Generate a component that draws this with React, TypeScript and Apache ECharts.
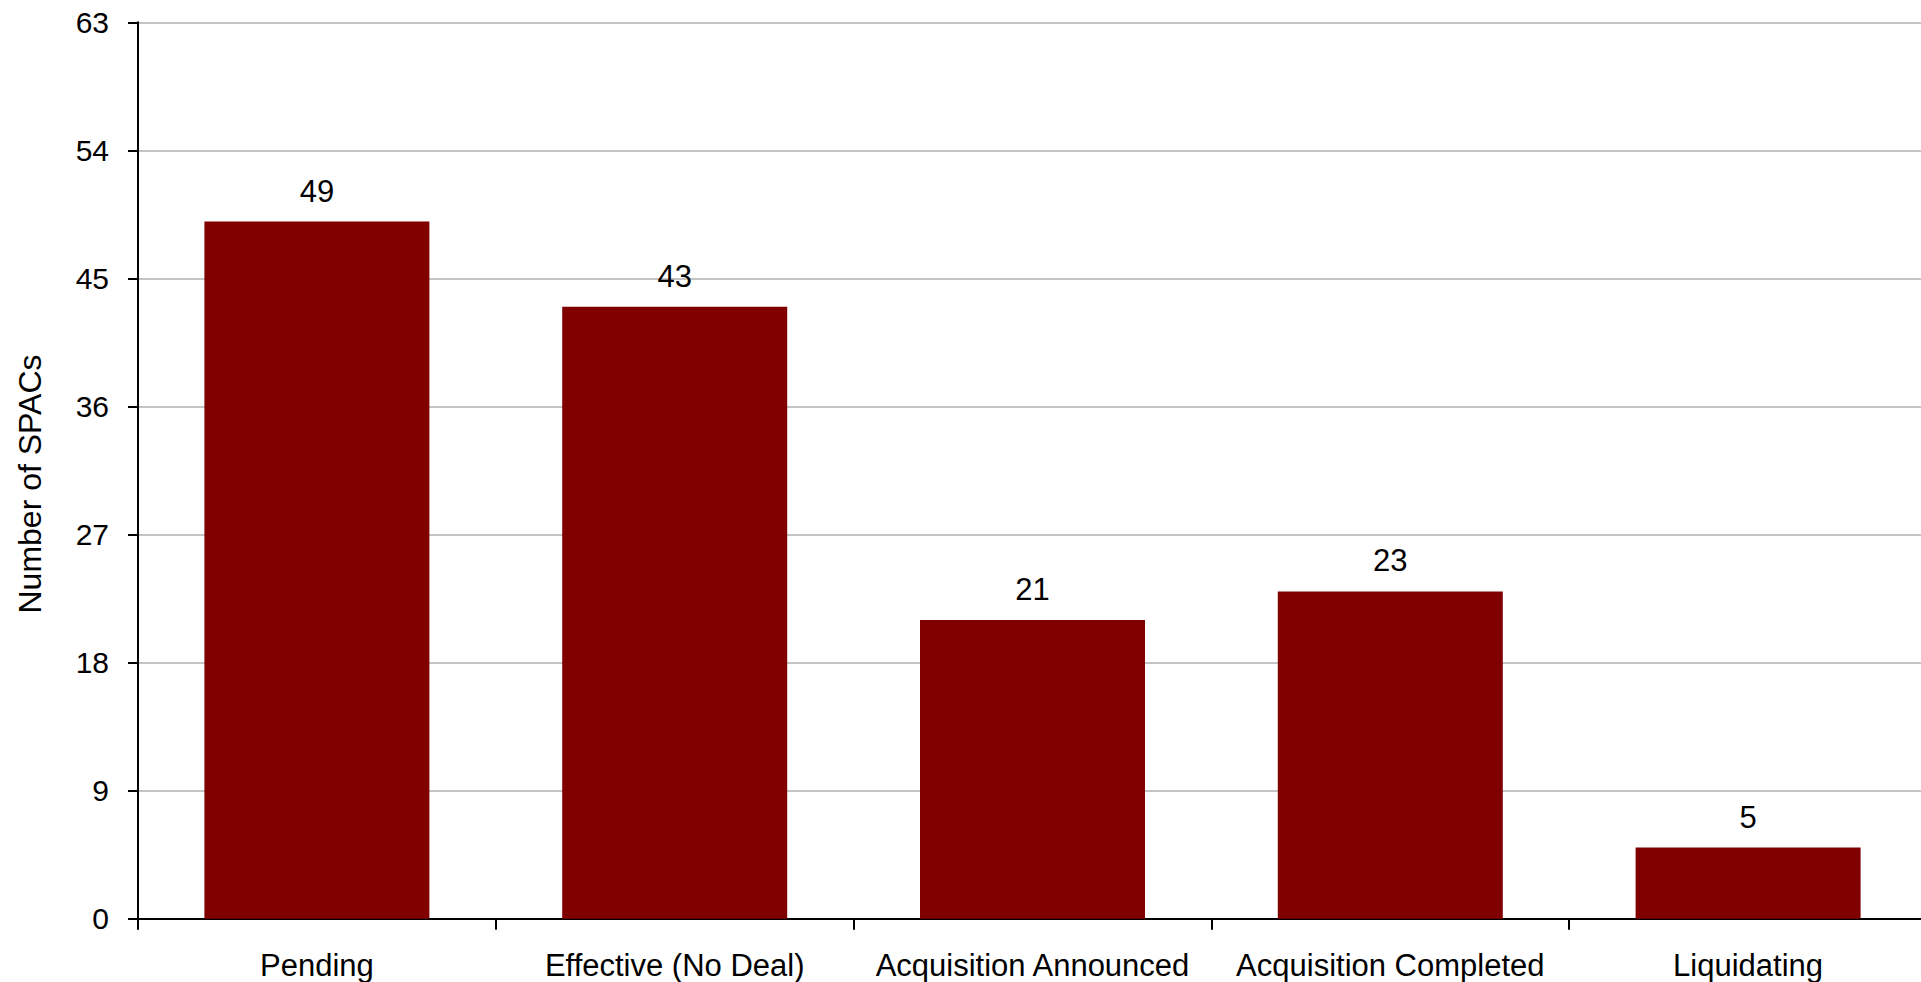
import React, { useEffect, useRef } from "react";
import * as echarts from "echarts";

const categories = [
  "Pending",
  "Effective (No Deal)",
  "Acquisition Announced",
  "Acquisition Completed",
  "Liquidating",
];
const spacCounts = [49, 43, 21, 23, 5];
const yMin = 0;
const yMax = 63;
const yInterval = 9;
const yTitle = "Number of SPACs";

const FONT = "'Liberation Sans', Arial, sans-serif";

export default function App() {
  const ref = useRef<HTMLDivElement>(null);
  useEffect(() => {
    if (!ref.current) return;
    const chart = echarts.init(ref.current, undefined, { renderer: "svg" });
    chart.setOption({
      animation: false,
      backgroundColor: "#ffffff",
      textStyle: { fontFamily: FONT },
      grid: { left: 138, top: 22.3, right: 0, bottom: 63.3, containLabel: false },
      xAxis: {
        type: "category",
        data: categories,
        axisLine: { show: true, lineStyle: { color: "#000000", width: 2 } },
        axisTick: { show: true, length: 11, lineStyle: { color: "#000000", width: 2 } },
        axisLabel: {
          color: "#000000",
          fontSize: 31,
          fontFamily: FONT,
          margin: 31,
          interval: 0,
        },
        splitLine: { show: false },
      },
      yAxis: {
        type: "value",
        min: yMin,
        max: yMax,
        interval: yInterval,
        axisLine: { show: true, lineStyle: { color: "#000000", width: 2 } },
        axisTick: { show: true, length: 10, lineStyle: { color: "#000000", width: 2 } },
        axisLabel: { color: "#000000", fontSize: 30, fontFamily: FONT, margin: 29 },
        splitLine: { show: true, lineStyle: { color: "#c4c4c4", width: 2 } },
      },
      graphic: [
        {
          type: "text",
          x: 30,
          y: 484,
          rotation: Math.PI / 2,
          style: {
            text: yTitle,
            fontSize: 32,
            fontFamily: FONT,
            fill: "#000000",
            align: "center",
            verticalAlign: "middle",
          },
        },
      ],
      series: [
        {
          type: "bar",
          data: spacCounts,
          barWidth: 225,
          itemStyle: { color: "#800000" },
          label: {
            show: true,
            position: "top",
            distance: 15,
            color: "#000000",
            fontSize: 31,
            fontFamily: FONT,
          },
        },
      ],
    });
    return () => chart.dispose();
  }, []);
  return (
    <div
      style={{
        position: "absolute",
        left: 0,
        top: 0,
        width: 1921,
        height: 982,
        overflow: "hidden",
        background: "#ffffff",
      }}
    >
      <div ref={ref} style={{ width: 1927, height: 982 }} />
    </div>
  );
}
